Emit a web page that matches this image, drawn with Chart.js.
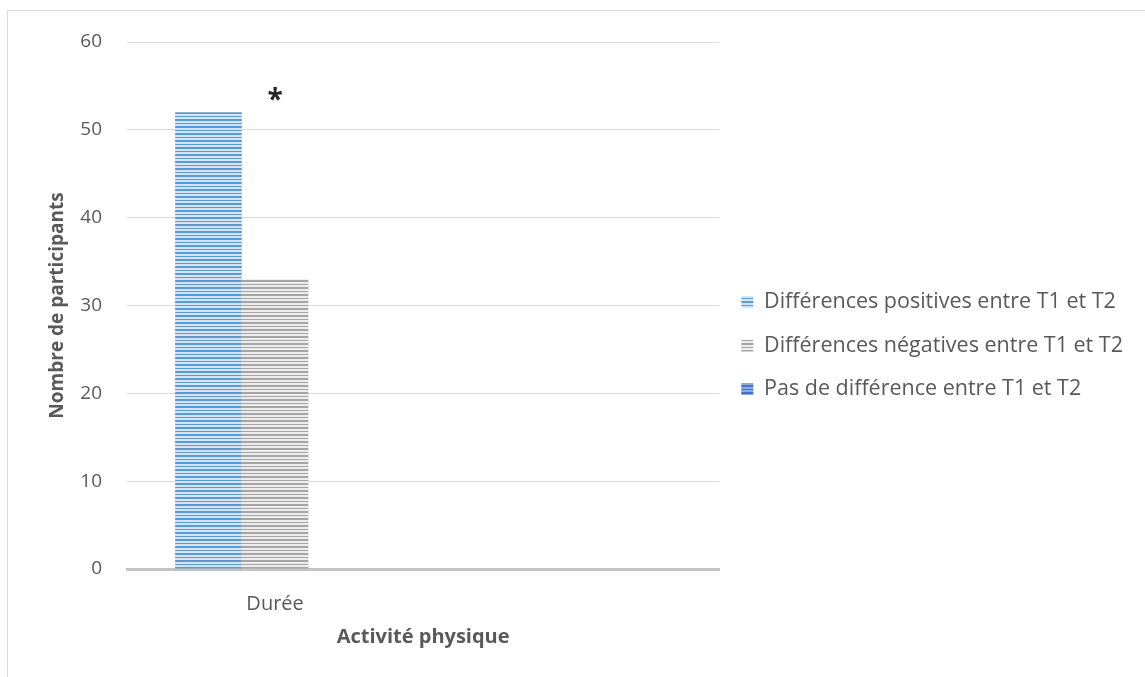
<!DOCTYPE html>
<html>
<head>
<meta charset="utf-8">
<script src="https://cdn.jsdelivr.net/npm/chart.js@4"></script>
<style>
  body { margin: 0; background: #fff; }
  #wrap { width: 1145px; height: 677px; }
</style>
</head>
<body>
<div id="wrap"><canvas id="chart"></canvas></div>
<script>
const categories = ['Durée', ''];
const positives = [52, null];
const negatives = [33, null];
const noDiff = [0, null];
const seriesNames = ['Différences positives entre T1 et T2', 'Différences négatives entre T1 et T2', 'Pas de différence entre T1 et T2'];
const yTicks = [0, 10, 20, 30, 40, 50, 60];
const starLabel = '*';
const starValue = 53.3;

const FONT = '"Open Sans", sans-serif';

function stripes(bg, line) {
    const c = document.createElement('canvas');
    c.width = 8; c.height = 7;
    const g = c.getContext('2d');
    g.fillStyle = bg;
    g.fillRect(0, 0, 8, 7);
    g.fillStyle = line;
    g.fillRect(0, 0, 8, 2);
    g.fillRect(0, 4, 8, 1);
    return g.createPattern(c, 'repeat');
}

const frame = {
    id: 'frame',
    beforeDraw(chart) {
        const c = chart.ctx;
        c.save();
        c.strokeStyle = '#d9d9d9';
        c.lineWidth = 1;
        c.strokeRect(7.5, 10.5, 3000, 3000);
        c.restore();
    }
};

const star = {
    id: 'star',
    afterDatasetsDraw(chart) {
        const c = chart.ctx;
        const x = chart.scales.x.getPixelForValue(0);
        const y = chart.scales.y.getPixelForValue(starValue);
        c.save();
        c.font = 'bold 28px ' + FONT;
        c.fillStyle = '#262626';
        c.textAlign = 'center';
        c.textBaseline = 'middle';
        c.fillText(starLabel, x, y);
        c.restore();
    }
};

function draw() {
    const ctx = document.getElementById('chart').getContext('2d');
    new Chart(ctx, {
        type: 'bar',
        data: {
            labels: categories,
            datasets: [
                { label: seriesNames[0], data: positives, backgroundColor: stripes('#d3e4f6', '#5b9bd5') },
                { label: seriesNames[1], data: negatives, backgroundColor: stripes('#ececec', '#a5a5a5') },
                { label: seriesNames[2], data: noDiff, backgroundColor: stripes('#8fa9dc', '#4472c4') }
            ]
        },
        options: {
            responsive: true,
            maintainAspectRatio: false,
            animation: false,
            categoryPercentage: 0.675,
            barPercentage: 1,
            layout: { padding: { left: 30, top: 42, right: 12, bottom: 28 } },
            plugins: {
                tooltip: { enabled: false },
                legend: {
                    position: 'right',
                    maxWidth: 500,
                    labels: {
                        font: { family: FONT, size: 21.5 },
                        color: '#595959',
                        boxWidth: 12,
                        boxHeight: 12,
                        padding: 22
                    }
                }
            },
            scales: {
                x: {
                    grid: { display: false },
                    border: { display: true, color: '#c4c4c4', width: 3 },
                    ticks: { font: { family: FONT, size: 20 }, color: '#595959', padding: 15 },
                    title: {
                        display: true,
                        text: 'Activité physique',
                        font: { family: FONT, size: 20, weight: 'bold' },
                        color: '#595959',
                        padding: { top: -6, bottom: 0 }
                    }
                },
                y: {
                    min: 0,
                    max: 60,
                    afterBuildTicks(axis) { axis.ticks = yTicks.map(v => ({ value: v })); },
                    afterFit(axis) { axis.width = 97; },
                    grid: { color: '#d9d9d9', lineWidth: 1, drawTicks: false },
                    border: { display: false },
                    ticks: { font: { family: FONT, size: 19 }, color: '#595959', padding: 25 },
                    title: {
                        display: true,
                        text: 'Nombre de participants',
                        font: { family: FONT, size: 19, weight: 'bold' },
                        color: '#595959',
                        padding: { top: 16, bottom: 10 }
                    }
                }
            }
        },
        plugins: [frame, star]
    });
}

Promise.all([
    document.fonts.load('19px "Open Sans"'),
    document.fonts.load('21px "Open Sans"'),
    document.fonts.load('bold 20px "Open Sans"')
]).catch(() => {}).finally(draw);
</script>
</body>
</html>
